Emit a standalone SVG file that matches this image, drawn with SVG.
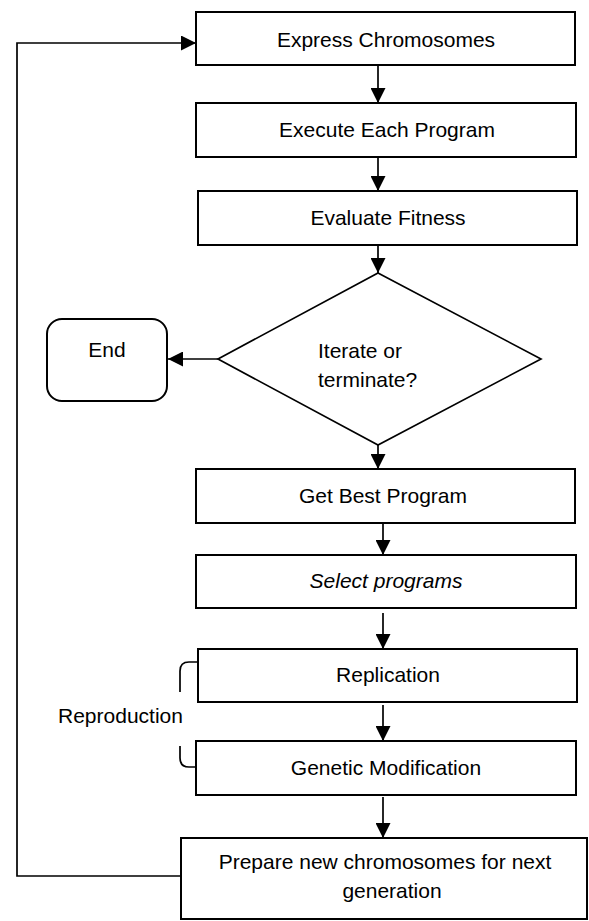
<svg xmlns="http://www.w3.org/2000/svg" width="589" height="921" viewBox="0 0 589 921">
<defs>
<marker id="ah" markerWidth="16" markerHeight="15" refX="15" refY="7.5" orient="auto" markerUnits="userSpaceOnUse"><path d="M0,0 L15,7.5 L0,15 Z" fill="#000"/></marker>
</defs>
<style>
.box{fill:#fff;stroke:#000;stroke-width:2}
.t{font-family:"Liberation Sans",Arial,sans-serif;font-size:21px;fill:#000;text-anchor:middle}
.l{text-anchor:start}
.c{fill:none;stroke:#000;stroke-width:1.7}
</style>
<rect width="589" height="921" fill="#fff"/>
<g id="connectors">
<path class="c" d="M378,65 V103" marker-end="url(#ah)"/>
<path class="c" d="M378,157 V191" marker-end="url(#ah)"/>
<path class="c" d="M378,245 V273" marker-end="url(#ah)"/>
<path class="c" d="M218,359 H168" marker-end="url(#ah)"/>
<path class="c" d="M378,445 V469" marker-end="url(#ah)"/>
<path class="c" d="M383,523 V555" marker-end="url(#ah)"/>
<path class="c" d="M383,613 V649" marker-end="url(#ah)"/>
<path class="c" d="M383,705 V741" marker-end="url(#ah)"/>
<path class="c" d="M383,797 V838" marker-end="url(#ah)"/>
<path class="c" d="M181,876 H17 V43 H196" marker-end="url(#ah)"/>
</g>
<g id="n-express"><rect class="box" x="196" y="12" width="379" height="53"/><text class="t" x="386" y="47">Express Chromosomes</text></g>
<g id="n-execute"><rect class="box" x="196" y="103" width="380" height="54"/><text class="t" x="387" y="137">Execute Each Program</text></g>
<g id="n-evaluate"><rect class="box" x="198" y="191" width="379" height="54"/><text class="t" x="388" y="225">Evaluate Fitness</text></g>
<g id="n-decision"><polygon points="378,273 541,359 378,445 218,359" fill="#fff" stroke="#000" stroke-width="1.7"/><text class="t l" x="318" y="358" font-size="22">Iterate or</text><text class="t l" x="318" y="387" font-size="22">terminate?</text></g>
<g id="n-end"><rect class="box" x="47" y="319" width="120" height="82" rx="15"/><text class="t" x="107" y="357">End</text></g>
<g id="n-best"><rect class="box" x="196" y="469" width="379" height="54"/><text class="t" x="383" y="503">Get Best Program</text></g>
<g id="n-select"><rect class="box" x="196" y="555" width="380" height="53"/><text class="t" x="386" y="588" font-style="italic">Select programs</text></g>
<g id="n-replication"><rect class="box" x="198" y="649" width="379" height="53"/><text class="t" x="388" y="682">Replication</text></g>
<g id="n-genetic"><rect class="box" x="196" y="741" width="380" height="54"/><text class="t" x="386" y="775">Genetic Modification</text></g>
<g id="n-prepare"><rect class="box" x="181" y="838" width="406" height="81"/><text class="t" x="385" y="869" font-size="22">Prepare new chromosomes for next</text><text class="t" x="392" y="898" font-size="22">generation</text></g>
<g id="n-reproduction"><path class="c" d="M198,662 H189 Q180,662 180,671 V692"/><path class="c" d="M180,746 V758 Q180,767 189,767 H197"/><text class="t l" x="58" y="723" font-size="20">Reproduction</text></g>
</svg>
